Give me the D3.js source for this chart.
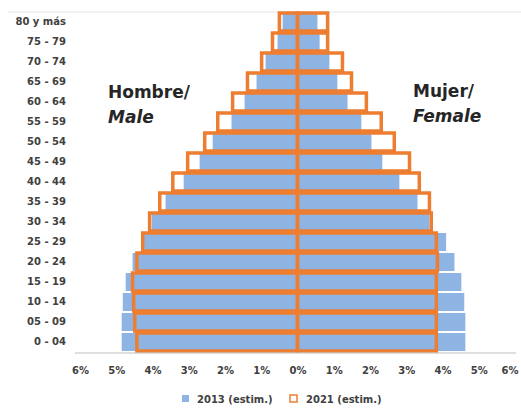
<!DOCTYPE html>
<html>
<head>
<meta charset="utf-8">
<script src="https://cdn.jsdelivr.net/npm/d3@7"></script>
<style>
  html, body { margin: 0; padding: 0; background: #fff; }
  svg { display: block; }
</style>
</head>
<body>
<div id="chart"></div>
<script>
// Age groups, bottom (youngest) to top (oldest)
const ageGroups = ["0 - 04", "05 - 09", "10 - 14", "15 - 19", "20 - 24", "25 - 29", "30 - 34",
  "35 - 39", "40 - 44", "45 - 49", "50 - 54", "55 - 59", "60 - 64", "65 - 69",
  "70 - 74", "75 - 79", "80 y más"];
// Percent of total population
const male2013   = [4.85, 4.85, 4.82, 4.74, 4.55, 4.27, 4.02, 3.64, 3.14, 2.70, 2.34, 1.82, 1.46, 1.13, 0.88, 0.55, 0.41];
const female2013 = [4.63, 4.63, 4.60, 4.52, 4.33, 4.10, 3.64, 3.31, 2.81, 2.34, 2.04, 1.76, 1.38, 1.10, 0.88, 0.61, 0.55];
const male2021   = [4.43, 4.49, 4.52, 4.55, 4.43, 4.27, 4.08, 3.80, 3.44, 3.03, 2.56, 2.20, 1.79, 1.38, 0.99, 0.69, 0.50];
const female2021 = [3.83, 3.83, 3.83, 3.83, 3.86, 3.83, 3.69, 3.64, 3.36, 3.09, 2.67, 2.31, 1.90, 1.49, 1.24, 0.83, 0.83];
const xTicks = [-6, -5, -4, -3, -2, -1, 0, 1, 2, 3, 4, 5, 6];
const seriesNames = ["2013 (estim.)", "2021 (estim.)"];

const W = 521, H = 408;
const blue = "#8eb4e3", orange = "#ed7d31";
const font = "'DejaVu Sans', sans-serif";

const svg = d3.select("#chart").append("svg").attr("width", W).attr("height", H);

const x = d3.scaleLinear().domain([-6, 6]).range([80, 515]);
const y = d3.scaleBand().domain(ageGroups.slice().reverse()).range([12, 352])
  .paddingInner(0.1).paddingOuter(0.05);

// top border line
svg.append("line").attr("x1", 8).attr("x2", W).attr("y1", 12).attr("y2", 12)
  .attr("stroke", "#e6e6e6").attr("stroke-width", 1);

// 2013 filled bars
const g13 = svg.append("g");
g13.selectAll("rect.m").data(ageGroups).join("rect")
  .attr("x", (d, i) => x(-male2013[i])).attr("y", d => y(d))
  .attr("width", (d, i) => x(0) - x(-male2013[i])).attr("height", y.bandwidth())
  .attr("fill", blue);
g13.selectAll("rect.f").data(ageGroups).join("rect").attr("class", "f")
  .attr("x", x(0)).attr("y", d => y(d))
  .attr("width", (d, i) => x(female2013[i]) - x(0)).attr("height", y.bandwidth())
  .attr("fill", blue);

// 2021 outline bars
const g21 = svg.append("g");
g21.selectAll("rect.m").data(ageGroups).join("rect").attr("class", "m")
  .attr("x", (d, i) => x(-male2021[i])).attr("y", d => y(d))
  .attr("width", (d, i) => x(0) - x(-male2021[i])).attr("height", y.bandwidth())
  .attr("fill", "none").attr("stroke", orange).attr("stroke-width", 3.5);
g21.selectAll("rect.f").data(ageGroups).join("rect").attr("class", "f")
  .attr("x", x(0)).attr("y", d => y(d))
  .attr("width", (d, i) => x(female2021[i]) - x(0)).attr("height", y.bandwidth())
  .attr("fill", "none").attr("stroke", orange).attr("stroke-width", 3.5);

// X axis
const xAxis = svg.append("g").attr("transform", "translate(0,353)")
  .call(d3.axisBottom(x).tickValues(xTicks).tickFormat(d => Math.abs(d) + "%").tickSize(0).tickPadding(14));
xAxis.select(".domain").attr("stroke", "#bfbfbf").attr("d", "M75,0H516");
xAxis.selectAll("text").attr("font-family", font).attr("font-weight", "bold")
  .attr("font-size", 10).attr("fill", "#404040");
// keep the last label inside the picture
xAxis.selectAll(".tick").filter(d => d === 6).select("text")
  .attr("text-anchor", "end").attr("dx", 3);

// Y axis labels
const yAxis = svg.append("g").attr("transform", "translate(70,0)")
  .call(d3.axisLeft(y).tickSize(0).tickPadding(4));
yAxis.select(".domain").remove();
yAxis.selectAll("text").attr("font-family", font).attr("font-weight", "bold")
  .attr("font-size", 10).attr("fill", "#404040");

// Side labels
const lab = svg.append("g").attr("font-family", font).attr("font-weight", "bold")
  .attr("font-size", 17).attr("fill", "#262626");
lab.append("text").attr("x", 108).attr("y", 98).text("Hombre/");
lab.append("text").attr("x", 108).attr("y", 123).attr("font-style", "italic").text("Male");
lab.append("text").attr("x", 413).attr("y", 97).text("Mujer/");
lab.append("text").attr("x", 413).attr("y", 122).attr("font-style", "italic").text("Female");

// Legend
const leg = svg.append("g").attr("font-family", font).attr("font-weight", "bold")
  .attr("font-size", 10).attr("fill", "#404040");
leg.append("rect").attr("x", 182).attr("y", 395).attr("width", 7).attr("height", 7).attr("fill", blue);
leg.append("text").attr("x", 197).attr("y", 403).text(seriesNames[0]);
leg.append("rect").attr("x", 290).attr("y", 395).attr("width", 7).attr("height", 7)
  .attr("fill", "none").attr("stroke", orange).attr("stroke-width", 1.5);
leg.append("text").attr("x", 306).attr("y", 403).text(seriesNames[1]);
</script>
</body>
</html>
